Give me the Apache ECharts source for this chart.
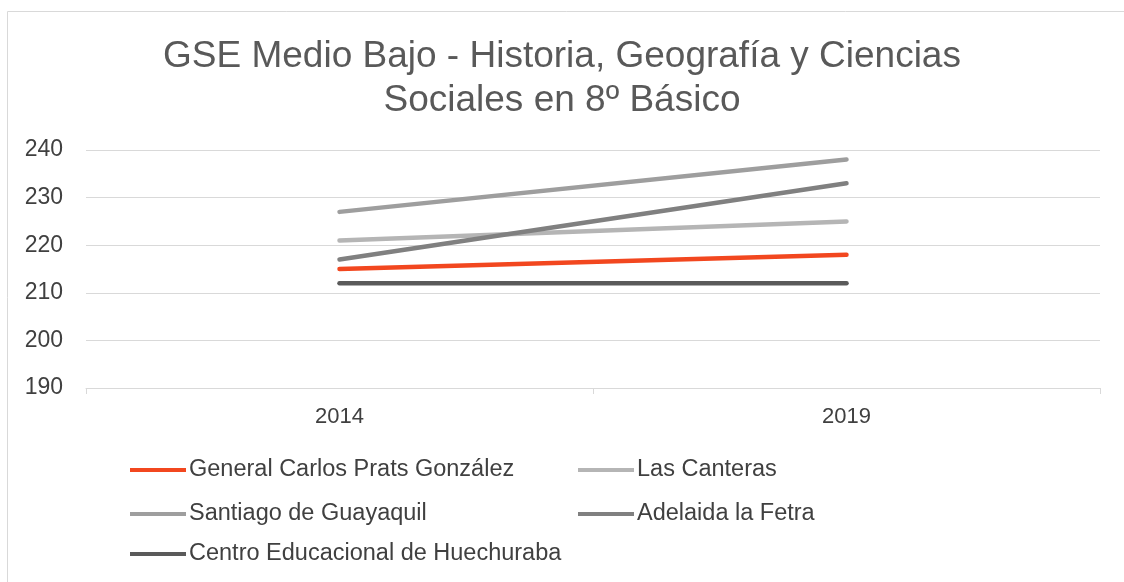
<!DOCTYPE html>
<html>
<head>
<meta charset="utf-8">
<script src="https://cdn.jsdelivr.net/npm/echarts@6/dist/echarts.min.js"></script>
<style>html,body{margin:0;padding:0;background:#fff}#c{width:1124px;height:582px}</style>
</head>
<body>
<div id="c"></div>
<script>
const categories = ['2014', '2019'];
const seriesNames = ['General Carlos Prats González', 'Las Canteras', 'Santiago de Guayaquil', 'Adelaida la Fetra', 'Centro Educacional de Huechuraba'];
const generalCarlosPrats = [215, 218];
const lasCanteras = [221, 225];
const santiagoGuayaquil = [227, 238];
const adelaidaFetra = [217, 233];
const centroHuechuraba = [212, 212];
const yTicks = [190, 200, 210, 220, 230, 240];

const values = [generalCarlosPrats, lasCanteras, santiagoGuayaquil, adelaidaFetra, centroHuechuraba];
const colors = ['#f2471f', '#b5b5b5', '#9e9e9e', '#808080', '#5a5a5a'];
const legendPos = [[125, 453], [573, 453], [125, 497], [573, 497], [125, 537]];

const chart = echarts.init(document.getElementById('c'));
chart.setOption({
  animation: false,
  textStyle: { fontFamily: 'Liberation Sans, Arial, sans-serif' },
  title: {
    text: 'GSE Medio Bajo - Historia, Geografía y Ciencias\nSociales en 8º Básico',
    left: 'center', top: 30, padding: [5, 0, 5, 10],
    textStyle: { fontSize: 37, fontWeight: 'normal', color: '#595959', lineHeight: 44, fontFamily: 'Liberation Sans, Arial, sans-serif' }
  },
  graphic: [{
    type: 'rect', shape: { x: 7.5, y: 11.5, width: 1130, height: 580 },
    style: { fill: 'none', stroke: '#d9d9d9', lineWidth: 1 }, silent: true
  }],
  legend: seriesNames.map((n, i) => ({
    data: [n], left: legendPos[i][0], top: legendPos[i][1],
    icon: 'rect', itemWidth: 56, itemHeight: 4, itemGap: 0,
    textStyle: { fontSize: 23.5, color: '#404040', padding: [0, 0, 0, -2] }
  })),
  grid: { left: 86, right: 24, top: 150, bottom: 194 },
  xAxis: {
    type: 'category', data: categories, boundaryGap: true,
    axisLine: { lineStyle: { color: '#d9d9d9', width: 1 } },
    axisTick: { show: true, length: 6, lineStyle: { color: '#d9d9d9' } },
    axisLabel: { fontSize: 22, color: '#404040', margin: 18 }
  },
  yAxis: {
    type: 'value', min: yTicks[0], max: yTicks[yTicks.length - 1], interval: 10,
    axisLine: { show: false }, axisTick: { show: false },
    axisLabel: { fontSize: 23, color: '#404040', margin: 23 },
    splitLine: { lineStyle: { color: '#d9d9d9', width: 1 } }
  },
  series: seriesNames.map((n, i) => ({
    name: n, type: 'line', data: values[i], symbol: 'none',
    lineStyle: { color: colors[i], width: 4.5, cap: 'round' },
    itemStyle: { color: colors[i] }
  }))
});
</script>
</body>
</html>
